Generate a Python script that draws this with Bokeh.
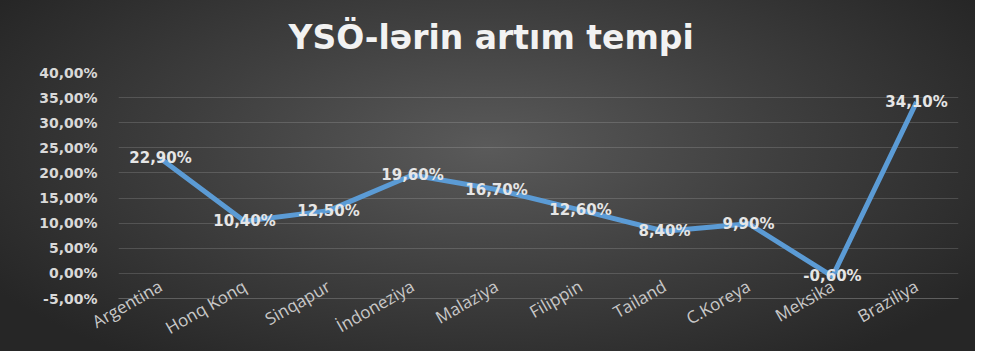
import math
from bokeh.plotting import figure
from bokeh.models import Range1d, FixedTicker, CustomJSTickFormatter, ColumnDataSource
from bokeh.core.properties import value
from bokeh.embed import file_html
from bokeh.resources import INLINE

countries = ["Argentina", "Honq Konq", "Sinqapur", "İndoneziya", "Malaziya",
             "Filippin", "Tailand", "C.Koreya", "Meksika", "Braziliya"]
growth = [22.9, 10.4, 12.5, 19.6, 16.7, 12.6, 8.4, 9.9, -0.6, 34.1]
y_ticks = [-5, 0, 5, 10, 15, 20, 25, 30, 35, 40]
title_text = "YSÖ-lərin artım tempi"

labels = [f"{v:.2f}".replace(".", ",") + "%" for v in growth]
src = ColumnDataSource(dict(x=countries, y=growth, lab=labels))

p = figure(x_range=countries, y_range=Range1d(y_ticks[0], y_ticks[-1]),
           width=975, height=351, output_backend="svg", toolbar_location=None,
           min_border_left=118, min_border_right=17, min_border_top=71,
           min_border_bottom=51)
p.background_fill_color = None
p.border_fill_color = None
p.outline_line_color = None
p.styles = {"background": "radial-gradient(ellipse 60% 75% at 50% 42%, #5a5a5a 0%, #3f3f3f 50%, #262626 100%)"}

p.title.text = title_text
p.title.align = "left"
p.title.offset = 170
p.title.standoff = 31
p.title.text_color = "#f2f2f2"
p.title.text_font = "DejaVu Sans"
p.title.text_font_style = "bold"
p.title.text_font_size = "33px"

p.line("x", "y", source=src, line_color="#5B9BD5", line_width=5, line_join="round")
p.text("x", "y", text="lab", source=src, text_align="center", text_baseline="middle",
       text_color="#e6e6e6", text_font=value("DejaVu Sans"), text_font_style="bold",
       text_font_size="15px")

p.yaxis.ticker = FixedTicker(ticks=y_ticks)
p.yaxis.formatter = CustomJSTickFormatter(code="return tick.toFixed(2).replace('.', ',') + '%';")
p.yaxis.axis_line_color = None
p.yaxis.major_tick_line_color = None
p.yaxis.minor_tick_line_color = None
p.yaxis.major_label_text_color = "#d9d9d9"
p.yaxis.major_label_text_font = "DejaVu Sans"
p.yaxis.major_label_text_font_style = "bold"
p.yaxis.major_label_text_font_size = "14px"
p.yaxis.major_label_standoff = 15

p.xaxis.axis_line_color = "#5e5e5e"
p.xaxis.major_tick_line_color = None
p.xaxis.minor_tick_line_color = None
p.xaxis.major_label_orientation = 0.52
p.xaxis.major_label_text_color = "#c8c8c8"
p.xaxis.major_label_text_font = "Open Sans"
p.xaxis.major_label_text_font_size = "17px"
p.xaxis.major_label_standoff = -20

p.xgrid.grid_line_color = None
p.ygrid.grid_line_color = "#ffffff"
p.ygrid.grid_line_alpha = 0.15

open("out.html", "w").write(file_html(p, INLINE))
